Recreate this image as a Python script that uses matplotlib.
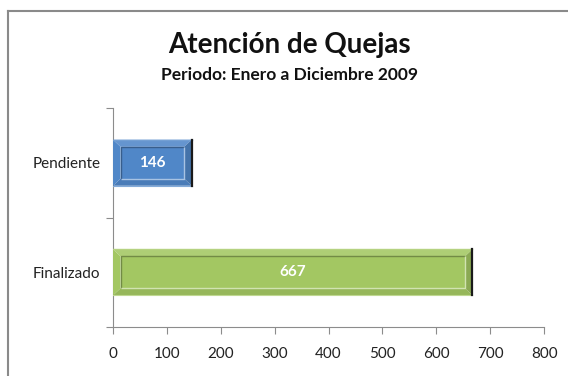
import matplotlib.pyplot as plt
import matplotlib.patches as mpatches
from matplotlib.colors import to_rgb

# ── Complaint counts ─────────────────────────────────────────────────────────
categories = ["Finalizado", "Pendiente"]
counts = [667, 146]
bar_colors = ["#A3C762", "#5087C8"]

plt.rcParams["font.family"] = ["Lato", "DejaVu Sans"]


def shade(color, f):
    r, g, b = to_rgb(color)
    if f >= 0:
        return (r + (1 - r) * f, g + (1 - g) * f, b + (1 - b) * f)
    return (r * (1 + f), g * (1 + f), b * (1 + f))


def bevel_bar(ax, y, value, color, height, dx, dy):
    x0, x1 = 0, value
    y0, y1 = y - height / 2, y + height / 2
    ix0, ix1, iy0, iy1 = x0 + dx, x1 - dx, y0 + dy, y1 - dy
    frame = [
        ([(x0, y1), (x1, y1), (ix1, iy1), (ix0, iy1)], shade(color, 0.12)),   # top
        ([(x0, y0), (x0, y1), (ix0, iy1), (ix0, iy0)], shade(color, 0.0)),    # left
        ([(x0, y0), (x1, y0), (ix1, iy0), (ix0, iy0)], shade(color, -0.08)),  # bottom
        ([(x1, y0), (x1, y1), (ix1, iy1), (ix1, iy0)], shade(color, -0.15)),  # right
    ]
    for pts, fc in frame:
        ax.add_patch(mpatches.Polygon(pts, closed=True, facecolor=fc,
                                      edgecolor="none", zorder=3))
    ax.add_patch(mpatches.Rectangle((ix0, iy0), ix1 - ix0, iy1 - iy0,
                                    facecolor=color, edgecolor="none", zorder=4))
    # inset edges: dark at top/left, light at bottom/right
    ax.plot([ix0, ix0, ix1], [iy0, iy1, iy1], color=shade(color, -0.3),
            lw=1.0, zorder=5, solid_capstyle="butt")
    ax.plot([ix0, ix1, ix1], [iy0, iy0, iy1], color=shade(color, 0.5),
            lw=1.0, zorder=5, solid_capstyle="butt")
    ax.plot([x0, x1], [y1, y1], color=shade(color, 0.2), lw=1.0, zorder=5)
    ax.plot([x0, x1], [y0, y0], color=shade(color, 0.3), lw=0.8, zorder=5)
    ax.plot([x1, x1], [y0, y1], color="#1a1a1a", lw=1.6, zorder=6)
    ax.text(value / 2, y, f"{value}", ha="center", va="center", color="white",
            fontsize=11, fontweight="bold", zorder=7)


fig = plt.figure(figsize=(5.68, 3.76), dpi=100)
fig.patch.set_facecolor("white")
ax = fig.add_axes([0.199, 0.130, 0.759, 0.583])

ax.set_xlim(0, 800)
ax.set_ylim(-0.5, 1.5)

for i, (v, c) in enumerate(zip(counts, bar_colors)):
    bevel_bar(ax, i, v, c, height=0.42, dx=14, dy=0.065)

ax.set_yticks([0, 1])
ax.set_yticklabels(categories, fontsize=11, color="#222222")
ax.set_yticks([-0.5, 0.5, 1.5], minor=True)
ax.tick_params(axis="y", which="major", length=0, pad=9)
ax.tick_params(axis="y", which="minor", length=5, color="#8c8c8c", width=0.8)
ax.set_xticks(range(0, 801, 100))
ax.tick_params(axis="x", length=5, color="#8c8c8c", width=0.8, pad=9,
               labelsize=11, labelcolor="#222222")
for s in ["top", "right"]:
    ax.spines[s].set_visible(False)
for s in ["left", "bottom"]:
    ax.spines[s].set_color("#8c8c8c")
    ax.spines[s].set_linewidth(0.8)

fig.text(0.51, 0.88, "Atención de Quejas", ha="center", va="center",
         fontsize=20, fontweight="bold", color="#111111")
fig.text(0.51, 0.80, "Periodo: Enero a Diciembre 2009", ha="center", va="center",
         fontsize=12.5, fontweight="bold", color="#111111")

# chart frame: only the left and top edges fall inside the image
fx, fy = 7.5 / 568, 1 - 10.5 / 376
fig.add_artist(plt.Line2D([fx, fx], [0, fy], transform=fig.transFigure,
                          color="#8a8a8a", lw=1.5))
fig.add_artist(plt.Line2D([fx, 1], [fy, fy], transform=fig.transFigure,
                          color="#8a8a8a", lw=1.5))

fig.savefig("out.png", dpi=100)
